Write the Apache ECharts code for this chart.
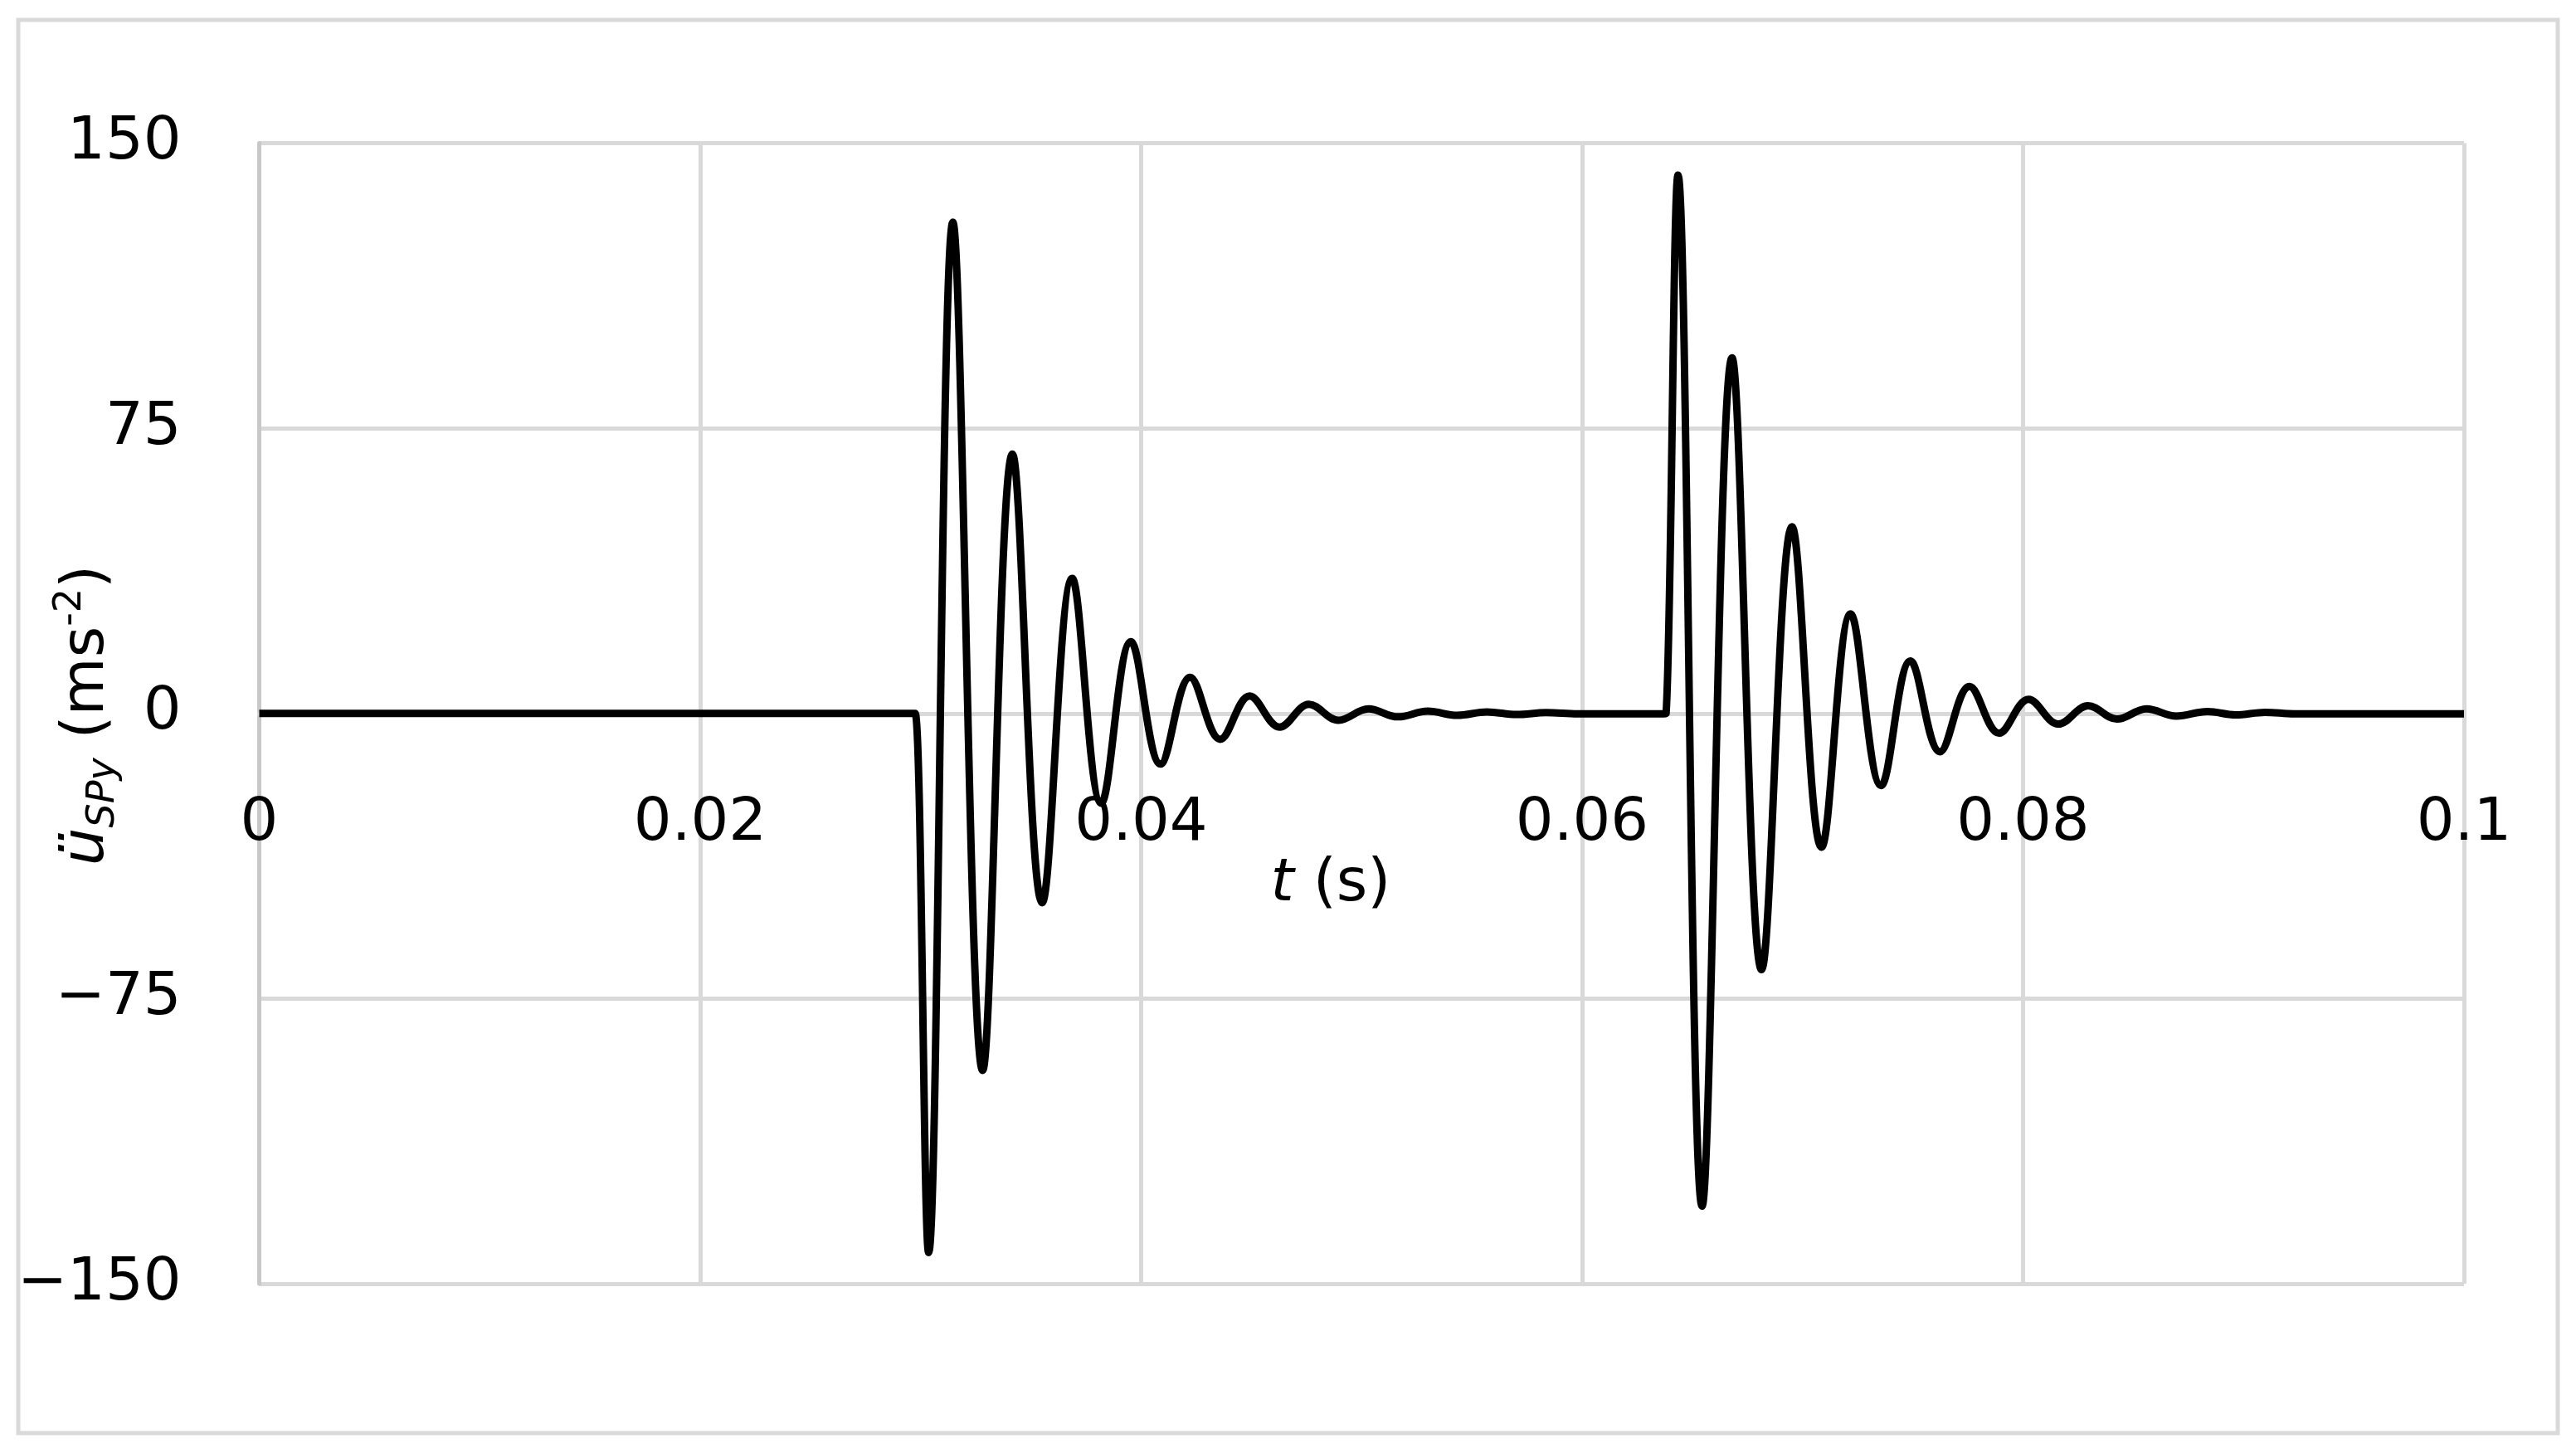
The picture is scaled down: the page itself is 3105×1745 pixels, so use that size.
<!DOCTYPE html>
<html>
<head>
<meta charset="utf-8">
<script src="https://cdn.jsdelivr.net/npm/echarts@6/dist/echarts.min.js"></script>
<style>
html,body{margin:0;padding:0;background:#ffffff;}
#chart{width:3105px;height:1745px;}
</style>
</head>
<body>
<div id="chart"></div>
<script>
// ---- Data ----
const xTicks = [0, 0.02, 0.04, 0.06, 0.08, 0.1];
const yTicks = [-150, -75, 0, 75, 150];

// quiet period before first impact
const baselineT = [0, 0.01, 0.02, 0.029, 0.0296, 0.02975];
const baselineA = [0, 0, 0, 0, 0, 0];

// first burst (alternating troughs / peaks)
const burst1T = [0.03036, 0.03146, 0.03281, 0.03416, 0.03551, 0.03687, 0.03819, 0.03953, 0.04088, 0.04222,
                 0.04359, 0.04492, 0.04628, 0.04761, 0.04895, 0.05031, 0.05165, 0.0530, 0.05434, 0.05568,
                 0.05703, 0.05837];
const burst1A = [-141.8, 129.2, -93.9, 68.2, -49.8, 35.5, -23.6, 18.9, -13.3, 9.5,
                 -6.8, 4.6, -3.6, 2.4, -1.8, 1.2, -0.9, 0.6, -0.5, 0.4,
                 -0.3, 0.2];

// quiet period between impacts
const gapT = [0.0598, 0.0612, 0.0625, 0.0636, 0.0637];
const gapA = [-0.1, -0.1, -0.1, -0.1, -0.1];

// second burst (alternating peaks / troughs)
const burst2T = [0.06381, 0.06435, 0.06544, 0.0668, 0.06814, 0.06952, 0.07086, 0.07218, 0.07356, 0.07489,
                 0.07623, 0.07757, 0.07891, 0.08025, 0.0816, 0.08295, 0.08426, 0.0856, 0.08695, 0.08837,
                 0.08964, 0.09097];
const burst2A = [0, 141.6, -129.6, 93.5, -67.4, 49.1, -35.2, 26.2, -19.0, 13.8,
                 -10.1, 7.1, -5.2, 3.7, -2.8, 2.0, -1.5, 1.2, -0.7, 0.5,
                 -0.4, 0.3];

// quiet end
const tailT = [0.0923, 0.095, 0.0975, 0.1];
const tailA = [-0.1, -0.1, -0.1, -0.1];

// ---- Build series ----
function pairs(t, a) { return t.map((v, i) => [v, a[i]]); }
const seriesData = [].concat(
  pairs(baselineT, baselineA),
  pairs(burst1T, burst1A),
  pairs(gapT, gapA),
  pairs(burst2T, burst2A),
  pairs(tailT, tailA)
);

const FONT = 'DejaVu Sans';
const GRID = '#d9d9d9';
const GRID_TOP = 172.5, GRID_BOTTOM = 198, H = 1745;
const plotH = H - GRID_TOP - GRID_BOTTOM;
const zeroOffset = -plotH * (0 - yTicks[0]) / (yTicks[yTicks.length - 1] - yTicks[0]);

const chart = echarts.init(document.getElementById('chart'), null, {renderer: 'canvas'});
chart.setOption({
  backgroundColor: '#ffffff',
  animation: false,
  grid: {left: 312.5, right: 135, top: GRID_TOP, bottom: GRID_BOTTOM, containLabel: false},
  xAxis: {
    type: 'value',
    position: 'bottom',
    offset: zeroOffset,
    min: xTicks[0],
    max: xTicks[xTicks.length - 1],
    interval: 0.02,
    axisLine: {show: true, onZero: false, lineStyle: {color: GRID, width: 5}},
    axisTick: {show: false},
    splitLine: {show: true, lineStyle: {color: GRID, width: 5}},
    axisLabel: {
      margin: 98,
      fontFamily: FONT, fontSize: 72, color: '#000000',
      formatter: v => String(+v.toFixed(2))
    }
  },
  yAxis: {
    type: 'value',
    min: yTicks[0],
    max: yTicks[yTicks.length - 1],
    interval: 75,
    axisLine: {show: true, onZero: false, lineStyle: {color: '#c8c8c8', width: 5}},
    axisTick: {show: false},
    splitLine: {show: true, lineStyle: {color: GRID, width: 5}},
    axisLabel: {
      margin: 94,
      fontFamily: FONT, fontSize: 72, color: '#000000',
      formatter: v => (v < 0 ? '\u2212' + Math.abs(v) : String(v))
    }
  },
  series: [{
    type: 'line',
    data: seriesData,
    showSymbol: false,
    smooth: 0.38,
    lineStyle: {color: '#000000', width: 9},
    z: 5
  }],
  graphic: [
    {
      type: 'rect',
      shape: {x: 22, y: 24, width: 3061, height: 1703},
      style: {fill: 'none', stroke: '#d9d9d9', lineWidth: 5},
      silent: true, z: -1
    },
    {
      type: 'text',
      x: 1604, y: 1066,
      style: {
        text: '{i|t} {n|(s)}',
        align: 'center', verticalAlign: 'middle',
        font: '72px "DejaVu Sans"',
        rich: {
          i: {fontFamily: FONT, fontSize: 72, fontStyle: 'italic', fill: '#000000', color: '#000000'},
          n: {fontFamily: FONT, fontSize: 72, fill: '#000000', color: '#000000'}
        }
      }
    },
    {
      type: 'text',
      x: 105, y: 862,
      rotation: Math.PI / 2,
      style: {
        text: '{i|\u00fc}{sub|SPy}{n| (ms}{sup|-2}{n|)}',
        align: 'center', verticalAlign: 'middle',
        font: '72px "DejaVu Sans"',
        rich: {
          i: {fontFamily: FONT, fontSize: 72, fontStyle: 'italic', lineHeight: 86, color: '#000000', fill: '#000000'},
          sub: {fontFamily: FONT, fontSize: 46, fontStyle: 'italic', lineHeight: 46, verticalAlign: 'bottom', color: '#000000', fill: '#000000'},
          n: {fontFamily: FONT, fontSize: 72, lineHeight: 86, color: '#000000', fill: '#000000'},
          sup: {fontFamily: FONT, fontSize: 46, lineHeight: 46, verticalAlign: 'top', color: '#000000', fill: '#000000'}
        }
      }
    }
  ]
});
</script>
</body>
</html>
